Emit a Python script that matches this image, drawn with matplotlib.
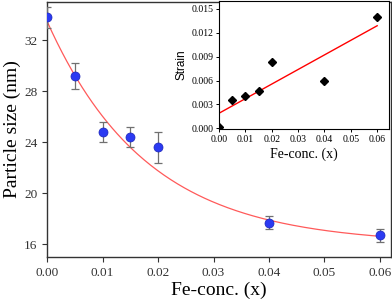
import numpy as np
import matplotlib
matplotlib.use('Agg')
import matplotlib.pyplot as plt

#particle size data (main plot)
fe_conc = [0.0, 0.005, 0.01, 0.015, 0.02, 0.04, 0.06]
size_nm = [33.8, 29.2, 24.8, 24.4, 23.6, 17.7, 16.7]
size_err = [0.8, 1.0, 0.8, 0.8, 1.2, 0.5, 0.5]

#exponential decay fit parameters: y0 + A*exp(-x/t)
fit_y0 = 16.0
fit_A = 17.5
fit_t = 0.018

#strain data (inset)
strain = [0.0002, 0.0035, 0.004, 0.0047, 0.0083, 0.006, 0.014]

plt.rcParams['font.family'] = ['Liberation Serif', 'DejaVu Serif']

fig = plt.figure(figsize=(3.92, 3.02), dpi=100)
ax = fig.add_axes([0.120, 0.149, 0.8776, 0.844])

xs = np.linspace(0, 0.06, 200)
ax.plot(xs, fit_y0 + fit_A * np.exp(-xs / fit_t), color='#ff5a5a', lw=0.9, zorder=2)
ax.errorbar(fe_conc, size_nm, yerr=size_err, fmt='none', ecolor='#707070',
            elinewidth=0.9, capsize=3, capthick=0.9, zorder=3)
ax.plot(fe_conc, size_nm, 'o', color='#2b3af2', ms=6.5, mec='#1a24b8', mew=0.5, zorder=4)

ax.set_xlim(0, 0.062)
ax.set_ylim(15, 35)
ax.set_xticks([0, 0.01, 0.02, 0.03, 0.04, 0.05, 0.06])
ax.set_xticklabels(['0.00', '0.01', '0.02', '0.03', '0.04', '0.05', '0.06'])
ax.set_yticks([16, 20, 24, 28, 32])
ax.tick_params(labelsize=9.5, direction='out', length=3.5, width=0.8, colors='#333333')
ax.set_xlabel('Fe-conc. (x)', fontsize=14, labelpad=2)
ax.set_ylabel('Particle size (nm)', fontsize=14, labelpad=2)
for s in ax.spines.values():
    s.set_linewidth(1.0)
    s.set_color('#333333')

#inset with strain
ins = fig.add_axes([0.5587, 0.5728, 0.4337, 0.4238])
ins.plot(fe_conc, strain, 'D', color='black', ms=4.5, zorder=3)
k, b = np.polyfit(fe_conc, strain, 1)
xl = np.array([0, 0.06])
ins.plot(xl, k * xl + b, color='red', lw=1.0, zorder=2)
ins.set_xlim(0, 0.0645)
ins.set_ylim(-0.0001, 0.016)
ins.set_xticks([0, 0.01, 0.02, 0.03, 0.04, 0.05, 0.06])
ins.set_xticklabels(['0.00', '0.01', '0.02', '0.03', '0.04', '0.05', '0.06'])
ins.set_yticks([0, 0.003, 0.006, 0.009, 0.012, 0.015])
ins.set_yticklabels(['0.000', '0.003', '0.006', '0.009', '0.012', '0.015'])
ins.tick_params(labelsize=7, direction='out', length=2.5, width=0.7, pad=1.5)
ins.set_xlabel('Fe-conc. (x)', fontsize=10, labelpad=3)
ins.set_ylabel('Strain', fontsize=8.5, family=['Liberation Sans', 'DejaVu Sans'], labelpad=3)
for s in ins.spines.values():
    s.set_linewidth(0.8)

fig.savefig('out.png', dpi=100)
